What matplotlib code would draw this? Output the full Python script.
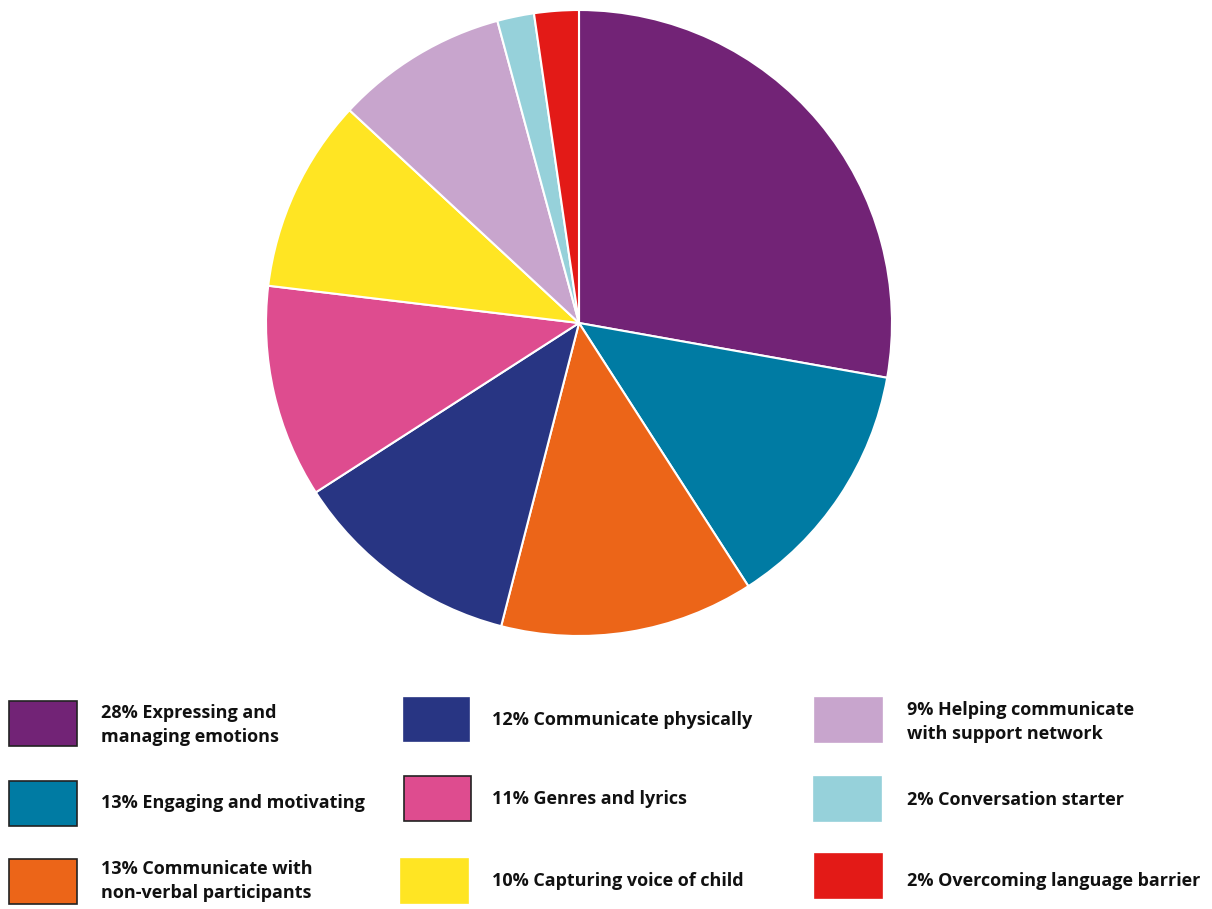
import matplotlib.pyplot as plt
from matplotlib.patches import Rectangle

# slice sizes (labels show rounded values)
values = [27.8, 13.1, 13.1, 11.9, 11.0, 10.0, 8.9, 1.9, 2.3]
labels = [
    "28% Expressing and\nmanaging emotions",
    "13% Engaging and motivating",
    "13% Communicate with\nnon-verbal participants",
    "12% Communicate physically",
    "11% Genres and lyrics",
    "10% Capturing voice of child",
    "9% Helping communicate\nwith support network",
    "2% Conversation starter",
    "2% Overcoming language barrier",
]
colors = ["#722376", "#007BA3", "#EC6518", "#283583", "#DE4C8F",
          "#FFE523", "#C8A5CD", "#96D1DA", "#E31A17"]
# which legend swatches have a dark outline in the original
outlined = [True, True, True, False, True, False, False, False, False]

W, H = 1212, 909
fig = plt.figure(figsize=(W / 100, H / 100), dpi=100)

# pie: centre (579, 323) px, radius 313 px
cx, cy, r = 579, 323, 313
ax = fig.add_axes([(cx - r) / W, (H - cy - r) / H, 2 * r / W, 2 * r / H])
ax.pie(values, colors=colors, startangle=90, counterclock=False,
       wedgeprops=dict(edgecolor="white", linewidth=1.5))
ax.set_xlim(-1, 1)
ax.set_ylim(-1, 1)
ax.axis("off")

# legend drawn in pixel coordinates
lg = fig.add_axes([0, 0, 1, 1])
lg.set_xlim(0, W)
lg.set_ylim(H, 0)
lg.axis("off")

# (box_x, box_y, box_w, box_h, text_x, text_y)
slots = [
    (9, 701, 68, 45, 101, 725),
    (9, 781, 68, 45, 101, 803),
    (9, 859, 68, 45, 101, 881),
    (404, 698, 65, 43, 492, 720),
    (404, 776, 67, 45, 492, 799),
    (401, 859, 67, 44, 492, 881),
    (815, 698, 67, 44, 907, 722),
    (814, 777, 67, 44, 907, 800),
    (815, 854, 67, 44, 907, 881),
]
for (bx, by, bw, bh, tx, ty), lab, col, edge in zip(slots, labels, colors, outlined):
    lg.add_patch(Rectangle((bx, by), bw, bh, facecolor=col,
                           edgecolor="#222222" if edge else col, linewidth=1.2))
    lg.text(tx, ty, lab, fontsize=13, fontweight="bold", family="Open Sans",
            color="#111111", va="center", ha="left", linespacing=1.45)

fig.savefig("out.png", dpi=100, facecolor="white")
